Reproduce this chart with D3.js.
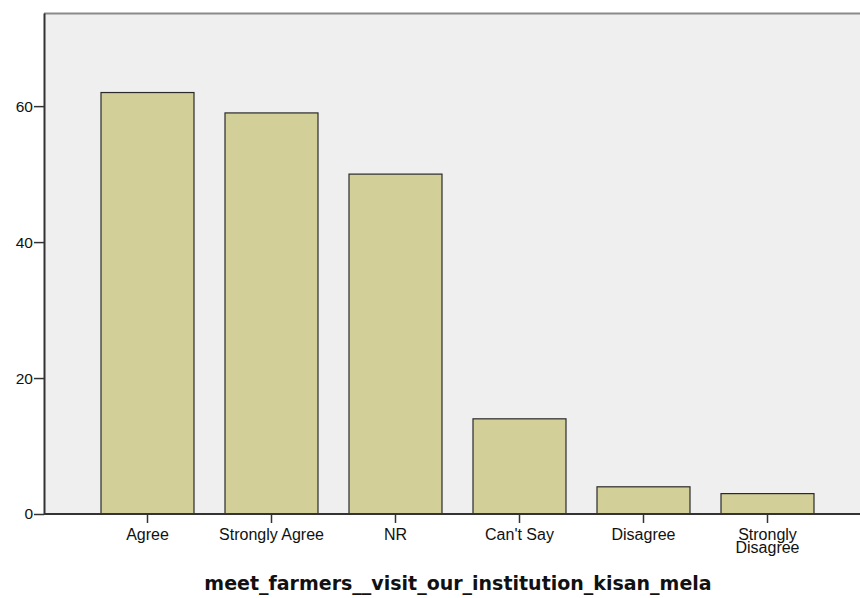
<!DOCTYPE html>
<html>
<head>
<meta charset="utf-8">
<script src="https://cdn.jsdelivr.net/npm/d3@7"></script>
<style>
  body { margin: 0; background: #fff; }
  svg { display: block; }
</style>
</head>
<body>
<div id="wrapper"></div>
<script>
const categories = ["Agree", "Strongly Agree", "NR", "Can't Say", "Disagree", "Strongly Disagree"];
const counts = [62, 59, 50, 14, 4, 3];
const yTicks = [0, 20, 40, 60];
const xTitle = "meet_farmers__visit_our_institution_kisan_mela";

const dimension = {
    width: 860,
    height: 598,
    margin: { top: 13, right: 0, bottom: 84, left: 44 }
};
dimension.boundedWidth = dimension.width - dimension.margin.left - dimension.margin.right;
dimension.boundedHeight = dimension.height - dimension.margin.top - dimension.margin.bottom;

const wrapper = d3.select("#wrapper")
    .append("svg")
    .attr("width", dimension.width)
    .attr("height", dimension.height);

const bounds = wrapper.append("g")
    .attr("transform", `translate(${dimension.margin.left},${dimension.margin.top})`);

// plot background
bounds.append("rect")
    .attr("width", dimension.boundedWidth)
    .attr("height", dimension.boundedHeight)
    .attr("fill", "#efefef");

bounds.append("line")
    .attr("x1", 0).attr("x2", dimension.boundedWidth)
    .attr("y1", 0.5).attr("y2", 0.5)
    .attr("stroke", "#8a8a8a").attr("stroke-width", 2);

const y = d3.scaleLinear()
    .domain([0, 73.7])
    .range([dimension.boundedHeight, 0]);

const x = d3.scaleBand()
    .domain(categories)
    .range([85.5 - dimension.margin.left, 829.5 - dimension.margin.left])
    .paddingInner(0.25)
    .paddingOuter(0.125);

bounds.selectAll("rect.bar")
    .data(categories)
    .enter()
    .append("rect")
    .attr("class", "bar")
    .attr("x", d => x(d))
    .attr("width", x.bandwidth())
    .attr("y", (d, i) => y(counts[i]))
    .attr("height", (d, i) => y(0) - y(counts[i]))
    .attr("fill", "#d3cf98")
    .attr("stroke", "#2a2a2a")
    .attr("stroke-width", 1.2);

const labelFont = "'Liberation Sans', Arial, sans-serif";

const yAxis = bounds.append("g")
    .call(d3.axisLeft(y).tickValues(yTicks).tickSize(10).tickSizeOuter(0).tickPadding(1).tickFormat(d3.format("d")));
yAxis.select(".domain").attr("stroke", "#333").attr("stroke-width", 2);
yAxis.selectAll(".tick line").attr("stroke", "#333").attr("stroke-width", 1.5);
yAxis.selectAll("text")
    .attr("fill", "#111")
    .style("font-family", labelFont)
    .style("font-size", "15.5px");

const xAxis = bounds.append("g")
    .attr("transform", `translate(0,${dimension.boundedHeight})`)
    .call(d3.axisBottom(x).tickSize(9).tickSizeOuter(0).tickPadding(6));
xAxis.select(".domain")
    .attr("d", `M0,0H${dimension.boundedWidth}`)
    .attr("stroke", "#333").attr("stroke-width", 2);
xAxis.selectAll(".tick line").attr("stroke", "#333").attr("stroke-width", 1.5);
xAxis.selectAll("text")
    .attr("fill", "#111")
    .style("font-family", labelFont)
    .style("font-size", "16px")
    .each(function(d) {
        const t = d3.select(this);
        if (d === "Strongly Disagree") {
            t.text(null);
            t.append("tspan").attr("x", 0).attr("dy", "0.71em").text("Strongly");
            t.append("tspan").attr("x", 0).attr("dy", "0.82em").text("Disagree");
            t.attr("dy", null);
        }
    });

wrapper.append("text")
    .attr("x", 458)
    .attr("y", 590)
    .attr("text-anchor", "middle")
    .style("font-family", "'DejaVu Sans', sans-serif")
    .style("font-weight", "bold")
    .style("font-size", "19px")
    .attr("fill", "#111")
    .text(xTitle);
</script>
</body>
</html>
